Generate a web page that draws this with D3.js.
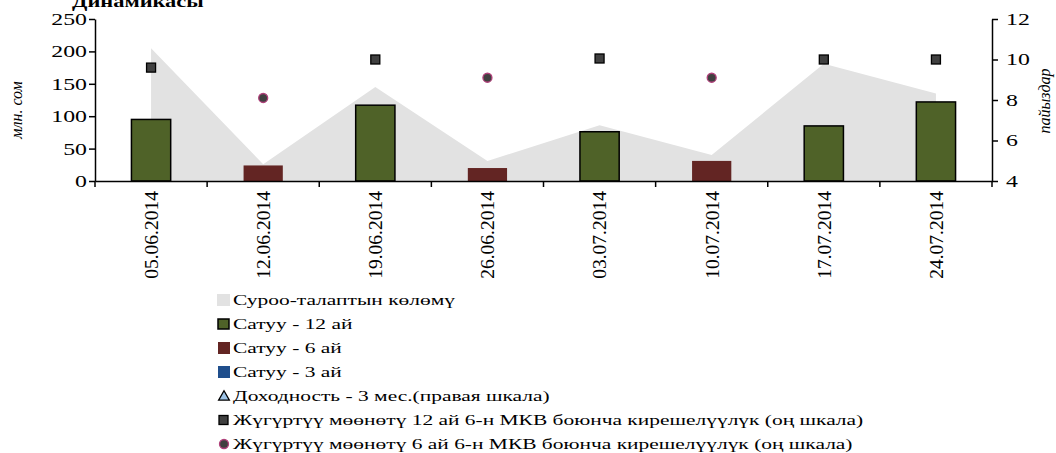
<!DOCTYPE html>
<html lang="ru">
<head>
    <meta charset="UTF-8">
    <title>Динамикасы</title>
    <script src="https://d3js.org/d3.v7.min.js"></script>
    <style>
        body { margin: 0; background: #fff; }
        svg text { font-family: "Liberation Serif", "Times New Roman", serif; fill: #000; }
        .axis path, .axis line { stroke: #000; stroke-width: 1.5px; }
        .axis text { font-size: 17px; }
        .xaxis text { font-size: 19.5px; }
    </style>
</head>
<body>
    <svg width="1056" height="453"></svg>

    <script>
        // --- data ---
        const dates = ["05.06.2014", "12.06.2014", "19.06.2014", "26.06.2014",
                       "03.07.2014", "10.07.2014", "17.07.2014", "24.07.2014"];
        const demand = [205, 26, 145, 31, 86, 40, 181, 135];          // Суроо-талаптын көлөмү
        const sale12 = [95, null, 117, null, 76, null, 85, 122];       // Сатуу - 12 ай
        const sale6  = [null, 24, null, 20, null, 31, null, null];     // Сатуу - 6 ай
        const yield12 = [9.6, null, 10.0, null, 10.05, null, 10.0, 10.0];
        const yield6  = [null, 8.1, null, 9.1, null, 9.1, null, null];
        const leftTicks = [0, 50, 100, 150, 200, 250];
        const rightTicks = [4, 6, 8, 10, 12];
        const legendItems = [
            "Суроо-талаптын көлөмү",
            "Сатуу - 12 ай",
            "Сатуу - 6 ай",
            "Сатуу - 3 ай",
            "Доходность - 3 мес.(правая шкала)",
            "Жүгүртүү мөөнөтү 12 ай 6-н МКВ боюнча кирешелүүлүк (оң шкала)",
            "Жүгүртүү мөөнөтү 6 ай 6-н МКВ боюнча кирешелүүлүк (оң шкала)"
        ];

        const svg = d3.select("svg");
        const SX = 1.4; // the original text is drawn wide

        const pLeft = 95, pRight = 992, pTop = 19, pBottom = 181;

        const x = d3.scaleBand().domain(dates).range([pLeft, pRight]);
        const y = d3.scaleLinear().domain([0, 250]).range([pBottom, pTop]);
        const y2 = d3.scaleLinear().domain([4, 12]).range([pBottom, pTop]);
        const cx = d => x(d) + x.bandwidth() / 2;
        const barW = x.bandwidth() * 0.35;

        // stretch text horizontally around its anchor point
        function stretch(sel, sx) {
            sel.each(function() {
                const t = d3.select(this);
                const tx = +t.attr("x") || 0, ty = +t.attr("y") || 0;
                t.attr("x", 0).attr("y", 0)
                 .attr("transform", `translate(${tx},${ty}) scale(${sx},1)`);
            });
        }

        // title (second line, cut at the top)
        svg.append("text")
            .attr("x", 72).attr("y", 7)
            .attr("font-weight", "bold")
            .attr("font-size", 16)
            .text("Динамикасы")
            .call(stretch, SX);

        // area: demand volume
        const area = d3.area()
            .x((d, i) => cx(dates[i]))
            .y0(y(0))
            .y1(d => y(d));
        svg.append("path")
            .datum(demand)
            .attr("fill", "#e2e2e2")
            .attr("d", area);

        // bars
        svg.append("g").selectAll("rect")
            .data(dates.map((d, i) => ({ d, v: sale12[i] })).filter(o => o.v != null))
            .join("rect")
            .attr("x", o => cx(o.d) - barW / 2)
            .attr("width", barW)
            .attr("y", o => y(o.v))
            .attr("height", o => y(0) - y(o.v))
            .attr("fill", "#4f6228")
            .attr("stroke", "#000")
            .attr("stroke-width", 1.5);

        svg.append("g").selectAll("rect")
            .data(dates.map((d, i) => ({ d, v: sale6[i] })).filter(o => o.v != null))
            .join("rect")
            .attr("x", o => cx(o.d) - barW / 2)
            .attr("width", barW)
            .attr("y", o => y(o.v))
            .attr("height", o => y(0) - y(o.v))
            .attr("fill", "#632523");

        // axes
        const gx = svg.append("g")
            .attr("class", "axis xaxis")
            .attr("transform", `translate(0,${pBottom})`)
            .call(d3.axisBottom(x).tickSize(0).tickSizeOuter(0));
        gx.selectAll(".tick text")
            .attr("transform", "rotate(-90)")
            .attr("text-anchor", "end")
            .attr("x", -10).attr("y", 0).attr("dy", "0.35em");
        // tick marks at category boundaries
        gx.selectAll(".bound")
            .data(dates.concat(["end"]))
            .join("line")
            .attr("class", "bound")
            .attr("x1", (d, i) => i < dates.length ? x(d) : pRight)
            .attr("x2", (d, i) => i < dates.length ? x(d) : pRight)
            .attr("y1", 0).attr("y2", 6);

        const gl = svg.append("g")
            .attr("class", "axis")
            .attr("transform", `translate(${pLeft},0)`)
            .call(d3.axisLeft(y).tickValues(leftTicks).tickSize(6).tickPadding(2).tickSizeOuter(0));
        gl.selectAll(".tick text").call(stretch, SX);

        const gr = svg.append("g")
            .attr("class", "axis")
            .attr("transform", `translate(${pRight},0)`)
            .call(d3.axisRight(y2).tickValues(rightTicks).tickSize(6).tickPadding(8).tickSizeOuter(0));
        gr.selectAll(".tick text").call(stretch, SX);

        // axis titles
        svg.append("text")
            .attr("transform", "translate(22,110) rotate(-90)")
            .attr("text-anchor", "middle")
            .attr("font-style", "italic")
            .attr("font-size", 16)
            .text("млн. сом");
        svg.append("text")
            .attr("transform", "translate(1050,101) rotate(-90)")
            .attr("text-anchor", "middle")
            .attr("font-style", "italic")
            .attr("font-size", 16)
            .text("пайыздар");

        // markers on right scale
        svg.append("g").selectAll("rect")
            .data(dates.map((d, i) => ({ d, v: yield12[i] })).filter(o => o.v != null))
            .join("rect")
            .attr("x", o => cx(o.d) - 4.5)
            .attr("y", o => y2(o.v) - 4.5)
            .attr("width", 9).attr("height", 9)
            .attr("fill", "#404040")
            .attr("stroke", "#000")
            .attr("stroke-width", 1.3);

        svg.append("g").selectAll("circle")
            .data(dates.map((d, i) => ({ d, v: yield6[i] })).filter(o => o.v != null))
            .join("circle")
            .attr("cx", o => cx(o.d))
            .attr("cy", o => y2(o.v))
            .attr("r", 4.5)
            .attr("fill", "#404040")
            .attr("stroke", "#b0407a")
            .attr("stroke-width", 1.3);

        // legend
        const lg = svg.append("g").attr("transform", "translate(217,0)");
        const rowY = i => 300 + i * 24;
        const rows = lg.selectAll("g").data(legendItems).join("g")
            .attr("transform", (d, i) => `translate(0,${rowY(i)})`);

        rows.each(function(d, i) {
            const r = d3.select(this);
            if (i === 0) r.append("rect").attr("x", 0).attr("y", -6).attr("width", 13).attr("height", 12).attr("fill", "#e2e2e2");
            if (i === 1) r.append("rect").attr("x", 1).attr("y", -5).attr("width", 11).attr("height", 10).attr("fill", "#4f6228").attr("stroke", "#000").attr("stroke-width", 1.5);
            if (i === 2) r.append("rect").attr("x", 1).attr("y", -6).attr("width", 12).attr("height", 12).attr("fill", "#632523");
            if (i === 3) r.append("rect").attr("x", 1).attr("y", -6).attr("width", 12).attr("height", 12).attr("fill", "#1f4e8c");
            if (i === 4) r.append("path").attr("d", d3.symbol(d3.symbolTriangle, 50)()).attr("transform", "translate(7,1)").attr("fill", "#9dc3e6").attr("stroke", "#000").attr("stroke-width", 1.3);
            if (i === 5) r.append("rect").attr("x", 2).attr("y", -4.5).attr("width", 9).attr("height", 9).attr("fill", "#404040").attr("stroke", "#000").attr("stroke-width", 1.3);
            if (i === 6) r.append("circle").attr("cx", 7).attr("cy", 0).attr("r", 4.5).attr("fill", "#404040").attr("stroke", "#b0407a").attr("stroke-width", 1.3);
        });

        rows.append("text")
            .attr("x", 16).attr("y", 5)
            .attr("font-size", 15)
            .text(d => d)
            .call(stretch, 1.43);
    </script>
</body>
</html>
